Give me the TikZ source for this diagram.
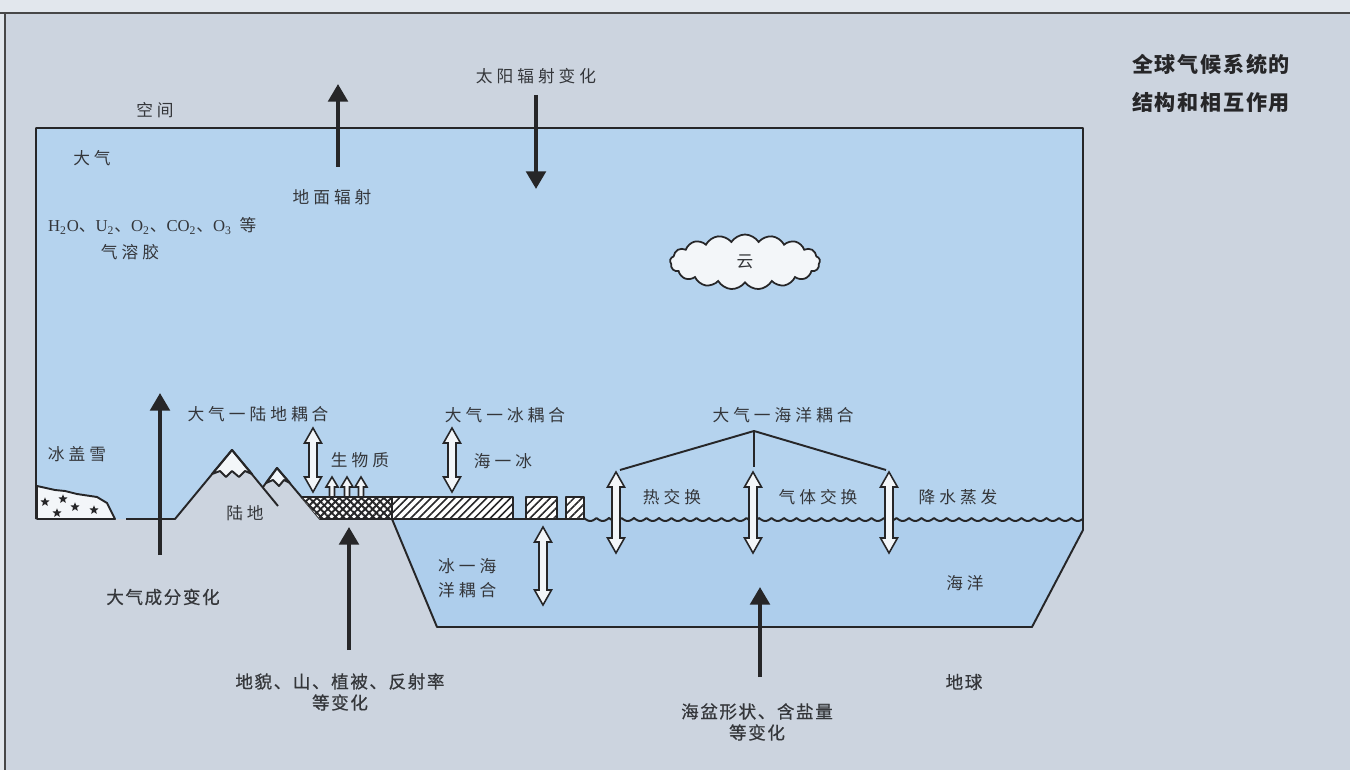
\documentclass[tikz,border=0pt]{standalone}
\usepackage{fontspec}
\usepackage{xcolor}
\usepackage{tikz}
\usetikzlibrary{arrows.meta,positioning,patterns.meta,shapes.geometric,shapes.symbols}
\newfontfamily\cjk[LetterSpace=24]{Noto Sans CJK SC}
\newfontfamily\cjkmid[LetterSpace=9,FakeBold=0.5]{Noto Sans CJK SC}
\newfontfamily\cjktitle[LetterSpace=8]{Noto Sans CJK SC}
\newfontfamily\lat{Liberation Serif}
\definecolor{paper}{RGB}{204,212,223}
\definecolor{papertop}{RGB}{226,231,237}
\definecolor{sky}{RGB}{181,211,238}
\definecolor{sea}{RGB}{174,206,236}
\definecolor{snow}{RGB}{243,246,249}
\definecolor{ink}{RGB}{38,38,40}
\definecolor{lblgray}{RGB}{52,54,58}

% hollow two-way arrow: x, top y, bottom y
\newcommand\twoway[3]{%
\filldraw[hollow] (#1,#2) -- ({#1+8.5},{#2+15}) -- ({#1+4},{#2+15}) -- ({#1+4},{#3-15})
 -- ({#1+8.5},{#3-15}) -- (#1,#3) -- ({#1-8.5},{#3-15}) -- ({#1-4},{#3-15})
 -- ({#1-4},{#2+15}) -- ({#1-8.5},{#2+15}) -- cycle;}
% small hollow arrow pointing up: x, base y, tip y
\newcommand\upway[3]{%
\filldraw[hollow] (#1,#3) -- ({#1+6},{#3+10}) -- ({#1+2.5},{#3+10}) -- ({#1+2.5},#2)
 -- ({#1-2.5},#2) -- ({#1-2.5},{#3+10}) -- ({#1-6},{#3+10}) -- cycle;}

\tikzset{
  lbl/.style={font=\fontsize{9.5}{13}\selectfont\cjk, text=lblgray, inner sep=1pt},
  cause/.style={font=\fontsize{10}{12}\selectfont\cjkmid, text=lblgray, inner sep=1pt},
  forcing/.style={ink, line width=2.3pt, -{Triangle[width=11pt,length=10pt]}},
  outline/.style={ink, line width=1.1pt, line join=round},
  hollow/.style={draw=ink, line width=0.9pt, fill=snow, line join=miter},
}

\begin{document}
\begin{tikzpicture}[x=0.02cm,y=-0.02cm]
\useasboundingbox (0,0) rectangle (1350,770);
% paper and frame
\fill[papertop] (0,0) rectangle (1350,770);
\fill[paper] (5,13) rectangle (1350,770);
\draw[ink!85, line width=1.2pt] (0,13) -- (1350,13);
\draw[ink!85, line width=1.2pt] (5,13) -- (5,770);

% atmosphere and ocean
\fill[sky] (36,128) -- (1083,128) -- (1083,530) -- (1032,627) -- (437,627) -- (392,519)
  -- (320,519) -- (277,468) -- (263,487) -- (232,450) -- (175,519) -- (36,519) -- cycle;
\fill[sea] (392,519) -- (1083,519) -- (1083,530) -- (1032,627) -- (437,627) -- cycle;
\draw[outline] (36,519) -- (36,128) -- (1083,128) -- (1083,530) -- (1032,627) -- (437,627) -- (392,519);

% snow caps
\filldraw[outline, fill=snow] (232,450) -- (252,474) -- (245,471) -- (239,477) -- (232,471)
  -- (226,477) -- (220,471) -- (212,474) -- cycle;
\filldraw[outline, fill=snow] (277,468) -- (290,483) -- (284,480) -- (279,486) -- (273,480)
  -- (266,483) -- cycle;

% land surface
\draw[outline] (126,519) -- (175,519) -- (232,450) -- (278,506);
\draw[outline] (263,487) -- (277,468) -- (320,519) -- (584,519);

% ice cap
\filldraw[outline, fill=snow] (37,519) -- (37,486) -- (55,490) -- (65,491) -- (77,494)
  -- (97,497) -- (107,503) -- (115,519) -- cycle;
\foreach \sx/\sy [count=\i] in {45/502, 63/499, 75/507, 57/513, 94/510}
  \node[star, star points=5, star point ratio=2.3, fill=ink, inner sep=0pt,
        minimum size=0.19cm] (star\i) at (\sx,\sy) {};

% biomass strip and sea ice
\fill[white] (301,497) -- (392,497) -- (392,519) -- (320,519) -- cycle;
\fill[pattern={Lines[angle=45,distance=3pt,line width=1.1pt]}, pattern color=ink]
  (301,497) -- (392,497) -- (392,519) -- (320,519) -- cycle;
\fill[pattern={Lines[angle=-45,distance=3pt,line width=1.1pt]}, pattern color=ink]
  (301,497) -- (392,497) -- (392,519) -- (320,519) -- cycle;
\draw[outline] (301,497) -- (392,497) -- (392,519) -- (320,519);
\foreach \xa/\xb in {392/513, 526/557, 566/584}{
  \fill[white] (\xa,497) rectangle (\xb,519);
  \fill[pattern={Lines[angle=45,distance=3.2pt,line width=0.9pt]}, pattern color=ink]
    (\xa,497) rectangle (\xb,519);
  \draw[outline] (\xa,497) rectangle (\xb,519);
}

% sea surface
\draw[outline] plot[domain=0:499, samples=700] ({\x+584},{518+3*abs(sin(14.4*\x))});

% cloud
\node[cloud, cloud puffs=17, cloud puff arc=115, aspect=2.8, draw=ink, line width=1pt,
      fill=snow, minimum width=3cm, minimum height=1.1cm, font=\fontsize{9.5}{13}\selectfont\cjk,
      text=lblgray] (cloud) at (745,262) {云};

% radiation at the top
\coordinate (terrBase) at (338,167);
\coordinate (terrTip) at (338,84);
\coordinate (solarBase) at (536,95);
\coordinate (solarTip) at (536,189);
\draw[forcing] (terrBase) -- (terrTip);
\draw[forcing] (solarBase) -- (solarTip);

% forcing from below
\coordinate (compBase) at (160,555);
\coordinate (compTip) at (160,393);
\coordinate (reliefBase) at (349,650);
\coordinate (reliefTip) at (349,527);
\coordinate (basinBase) at (760,677);
\coordinate (basinTip) at (760,587);
\draw[forcing] (compBase) -- (compTip);
\draw[forcing] (reliefBase) -- (reliefTip);
\draw[forcing] (basinBase) -- (basinTip);

% coupling arrows
\twoway{313}{428}{492}
\twoway{452}{428}{492}
\twoway{543}{527}{605}
\twoway{616}{472}{553}
\twoway{753}{472}{553}
\twoway{889}{472}{553}
\upway{332}{497}{477}
\upway{347}{497}{477}
\upway{361}{497}{477}

% ocean coupling bracket
\coordinate (apex) at (754,431);
\coordinate (heatTop) at (620,470);
\coordinate (gasTop) at (754,467);
\coordinate (precTop) at (886,470);
\draw[outline] (heatTop) -- (apex) -- (precTop);
\draw[outline] (apex) -- (gasTop);

% labels
\node[lbl] (space) at (155,110) {空间};
\node[lbl] (atmos) at (92,158) {大气};
\node[lbl] (solar) at (536,76) {太阳辐射变化};
\node[lbl] (terr) at (332,197) {地面辐射};
\node[lbl, anchor=west] (gases) at (46,226)
  {{\lat H\textsubscript{2}O}、{\lat U\textsubscript{2}}、{\lat O\textsubscript{2}}、{\lat CO\textsubscript{2}}、{\lat O\textsubscript{3}} 等};
\node[lbl] (aerosol) at (130,252) {气溶胶};
\node[lbl] (icecap) at (77,454) {冰盖雪};
\node[lbl] (landcpl) at (258,414) {大气一陆地耦合};
\node[lbl] (bio) at (360,460) {生物质};
\node[lbl] (land) at (245,513) {陆地};
\node[lbl] (icecpl) at (505,415) {大气一冰耦合};
\node[lbl] (seaice) at (503,461) {海一冰};
\node[lbl, align=left, anchor=west] (iceocean) at (436,578) {冰一海\\[1pt]洋耦合};
\node[lbl] (oceancpl) at (783,415) {大气一海洋耦合};
\node[lbl] (heat) at (672,497) {热交换};
\node[lbl] (gasx) at (818,497) {气体交换};
\node[lbl] (precip) at (958,497) {降水蒸发};
\node[lbl] (ocean) at (965,583) {海洋};
\node[cause] (earth) at (964,682) {地球};
\node[cause] (comp) at (163,597) {大气成分变化};
\node[cause, align=center] (relief) at (340,692) {地貌、山、植被、反射率\\等变化};
\node[cause, align=center] (basin) at (757,722) {海盆形状、含盐量\\等变化};
\node[font=\fontsize{12}{21.6}\selectfont\cjktitle\bfseries, text=ink, align=left,
      anchor=north west] (title) at (1126,48) {全球气候系统的\\结构和相互作用};
\end{tikzpicture}
\end{document}
